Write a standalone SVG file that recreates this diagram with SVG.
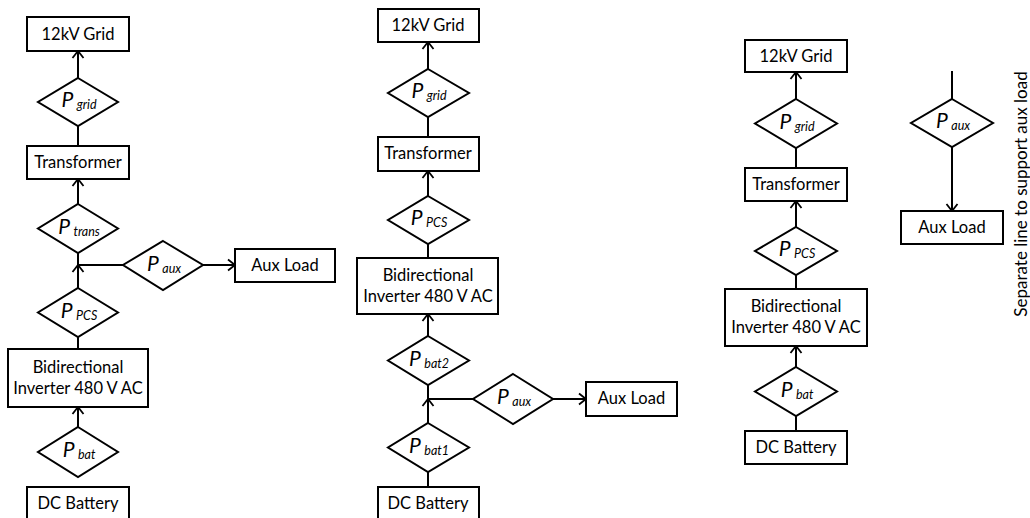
<svg xmlns="http://www.w3.org/2000/svg" width="1030" height="518" viewBox="0 0 1030 518">
<defs>
<marker id="arr" markerUnits="userSpaceOnUse" markerWidth="16" markerHeight="16" viewBox="-10 -8 12 16" refX="0" refY="0" orient="auto">
<path d="M-7,-5.5 L0,0 L-7,5.5" fill="none" stroke="#000" stroke-width="1.8"/>
</marker>
</defs>
<style>
.box{fill:#fff;stroke:#000;stroke-width:2}
.dia{fill:#fff;stroke:#000;stroke-width:2}
.t{font-family:Lato,"Liberation Sans",sans-serif;font-size:16.5px;fill:#000;text-anchor:middle}
.p{font-family:Lato,"Liberation Sans",sans-serif;font-style:italic;fill:#000;text-anchor:middle}
.pb{font-size:21px}
.ps{font-size:12.5px}
.c{stroke:#000;stroke-width:2;fill:none}
.a{stroke:#000;stroke-width:2;fill:none;marker-end:url(#arr)}
</style>
<g id="connectors">
<line class="a" x1="78" y1="78" x2="78" y2="51"/>
<line class="c" x1="78" y1="126" x2="78" y2="146"/>
<line class="a" x1="78" y1="204" x2="78" y2="179"/>
<line class="c" x1="78" y1="253" x2="78" y2="265"/>
<line class="a" x1="78" y1="288" x2="78" y2="265"/>
<line class="c" x1="78" y1="265" x2="123" y2="265"/>
<line class="a" x1="203" y1="265" x2="235" y2="265"/>
<line class="c" x1="78" y1="337" x2="78" y2="349"/>
<line class="a" x1="78" y1="427" x2="78" y2="407"/>
<line class="a" x1="428" y1="69" x2="428" y2="42"/>
<line class="c" x1="428" y1="117" x2="428" y2="137"/>
<line class="a" x1="428" y1="196" x2="428" y2="171"/>
<line class="c" x1="428" y1="244" x2="428" y2="258"/>
<line class="a" x1="428" y1="336" x2="428" y2="314"/>
<line class="c" x1="428" y1="385" x2="428" y2="399"/>
<line class="a" x1="428" y1="423" x2="428" y2="399"/>
<line class="c" x1="428" y1="399" x2="473" y2="399"/>
<line class="a" x1="553" y1="399" x2="586" y2="399"/>
<line class="c" x1="428" y1="472" x2="428" y2="487"/>
<line class="a" x1="796" y1="99" x2="796" y2="72"/>
<line class="c" x1="796" y1="148" x2="796" y2="168"/>
<line class="a" x1="796" y1="227" x2="796" y2="201"/>
<line class="c" x1="796" y1="275" x2="796" y2="289"/>
<line class="a" x1="796" y1="367" x2="796" y2="346"/>
<line class="c" x1="796" y1="416" x2="796" y2="431"/>
<line class="c" x1="952" y1="71" x2="952" y2="99"/>
<line class="a" x1="952" y1="147" x2="952" y2="211"/>
</g>

<g id="L_grid"><rect class="box" x="27" y="17" width="102" height="34"/><text class="t" x="78" y="39.5">12kV Grid</text></g>
<g id="L_pgrid"><polygon class="dia" points="78,78 118,102 78,126 38,102"/><text class="p" x="79" y="106.5"><tspan class="pb">P</tspan><tspan class="ps" dx="3.5" dy="2">grid</tspan></text></g>
<g id="L_trans"><rect class="box" x="27" y="146" width="102" height="33"/><text class="t" x="78" y="168">Transformer</text></g>
<g id="L_ptrans"><polygon class="dia" points="78,204 118,228.5 78,253 38,228.5"/><text class="p" x="79" y="233.5"><tspan class="pb">P</tspan><tspan class="ps" dx="3.5" dy="2">trans</tspan></text></g>
<g id="L_paux"><polygon class="dia" points="163,241 203,265 163,290 123,265"/><text class="p" x="164" y="270.5"><tspan class="pb">P</tspan><tspan class="ps" dx="3.5" dy="2">aux</tspan></text></g>
<g id="L_auxload"><rect class="box" x="235" y="249" width="100" height="33"/><text class="t" x="285" y="271">Aux Load</text></g>
<g id="L_ppcs"><polygon class="dia" points="78,288 118,312.5 78,337 38,312.5"/><text class="p" x="79" y="317.5"><tspan class="pb">P</tspan><tspan class="ps" dx="3.5" dy="2">PCS</tspan></text></g>
<g id="L_inv"><rect class="box" x="8" y="349" width="140" height="58"/><text class="t" x="78" y="373">Bidirectional</text><text class="t" x="78" y="394">Inverter 480 V AC</text></g>
<g id="L_pbat"><polygon class="dia" points="78,427 118,452 78,477 38,452"/><text class="p" x="79" y="456.5"><tspan class="pb">P</tspan><tspan class="ps" dx="3.5" dy="2">bat</tspan></text></g>
<g id="L_batt"><rect class="box" x="27" y="487" width="102" height="40"/><text class="t" x="78" y="509">DC Battery</text></g>

<g id="M_grid"><rect class="box" x="378" y="9" width="101" height="33"/><text class="t" x="428" y="31">12kV Grid</text></g>
<g id="M_pgrid"><polygon class="dia" points="428,69 469,93 428,117 388,93"/><text class="p" x="429" y="97.5"><tspan class="pb">P</tspan><tspan class="ps" dx="3.5" dy="2">grid</tspan></text></g>
<g id="M_trans"><rect class="box" x="378" y="137" width="101" height="34"/><text class="t" x="428" y="159">Transformer</text></g>
<g id="M_ppcs"><polygon class="dia" points="428,196 469,220 428,244 388,220"/><text class="p" x="429" y="224.5"><tspan class="pb">P</tspan><tspan class="ps" dx="3.5" dy="2">PCS</tspan></text></g>
<g id="M_inv"><rect class="box" x="357" y="258" width="141" height="56"/><text class="t" x="428" y="281">Bidirectional</text><text class="t" x="428" y="302">Inverter 480 V AC</text></g>
<g id="M_pbat2"><polygon class="dia" points="428,336 469,360.5 428,385 388,360.5"/><text class="p" x="429" y="365.5"><tspan class="pb">P</tspan><tspan class="ps" dx="3.5" dy="2">bat2</tspan></text></g>
<g id="M_paux"><polygon class="dia" points="513,374 553,399 513,424 473,399"/><text class="p" x="514" y="403.5"><tspan class="pb">P</tspan><tspan class="ps" dx="3.5" dy="2">aux</tspan></text></g>
<g id="M_auxload"><rect class="box" x="586" y="382" width="91" height="34"/><text class="t" x="631.5" y="404">Aux Load</text></g>
<g id="M_pbat1"><polygon class="dia" points="428,423 469,447.5 428,472 388,447.5"/><text class="p" x="429" y="452.5"><tspan class="pb">P</tspan><tspan class="ps" dx="3.5" dy="2">bat1</tspan></text></g>
<g id="M_batt"><rect class="box" x="378" y="487" width="101" height="40"/><text class="t" x="428" y="509">DC Battery</text></g>

<g id="R_grid"><rect class="box" x="745" y="40" width="102" height="32"/><text class="t" x="796" y="61.5">12kV Grid</text></g>
<g id="R_pgrid"><polygon class="dia" points="796,99 837,123.5 796,148 755,123.5"/><text class="p" x="797" y="128.5"><tspan class="pb">P</tspan><tspan class="ps" dx="3.5" dy="2">grid</tspan></text></g>
<g id="R_trans"><rect class="box" x="745" y="168" width="102" height="33"/><text class="t" x="796" y="190">Transformer</text></g>
<g id="R_ppcs"><polygon class="dia" points="796,227 837,251 796,275 755,251"/><text class="p" x="797" y="255.5"><tspan class="pb">P</tspan><tspan class="ps" dx="3.5" dy="2">PCS</tspan></text></g>
<g id="R_inv"><rect class="box" x="725" y="289" width="142" height="57"/><text class="t" x="796" y="312">Bidirectional</text><text class="t" x="796" y="333">Inverter 480 V AC</text></g>
<g id="R_pbat"><polygon class="dia" points="796,367 837,391.5 796,416 755,391.5"/><text class="p" x="797" y="396.5"><tspan class="pb">P</tspan><tspan class="ps" dx="3.5" dy="2">bat</tspan></text></g>
<g id="R_batt"><rect class="box" x="745" y="431" width="102" height="33"/><text class="t" x="796" y="453">DC Battery</text></g>
<g id="R_paux"><polygon class="dia" points="952,99 993,123 952,147 911,123"/><text class="p" x="953" y="127.5"><tspan class="pb">P</tspan><tspan class="ps" dx="3.5" dy="2">aux</tspan></text></g>
<g id="R_auxload"><rect class="box" x="901" y="211" width="102" height="33"/><text class="t" x="952" y="233">Aux Load</text></g>
<g id="R_note"><text class="t" transform="translate(1027,194) rotate(-90)" style="font-size:17px">Separate line to support aux load</text></g>
</svg>
